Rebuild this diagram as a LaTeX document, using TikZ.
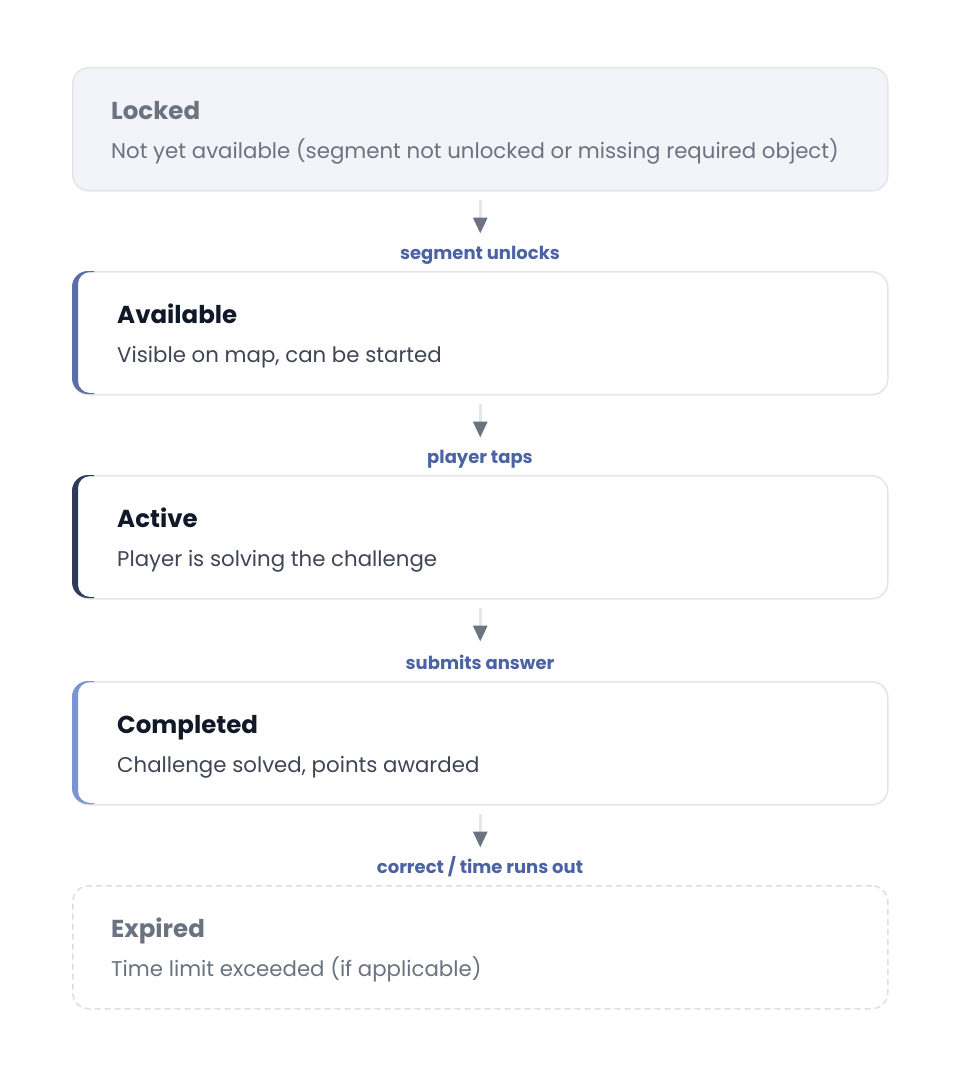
\documentclass[tikz,border=0pt]{standalone}
\usepackage{fontspec}
\setmainfont{Poppins}
\usetikzlibrary{arrows.meta}
\definecolor{lockfill}{HTML}{F3F4F9}
\definecolor{boxline}{HTML}{E3E5EA}
\definecolor{mutedtxt}{HTML}{6B7280}
\definecolor{darktxt}{HTML}{111827}
\definecolor{desctxt}{HTML}{3F4554}
\definecolor{lbltxt}{HTML}{4B63A3}
\definecolor{accA}{HTML}{5A6FA8}
\definecolor{accB}{HTML}{2D3A58}
\definecolor{accC}{HTML}{7B95D1}
\definecolor{arrline}{HTML}{E5E7EB}
\definecolor{dashline}{HTML}{DCDEE3}
\tikzset{
  statebox/.style={anchor=north west, minimum width=815pt, minimum height=123pt,
    rounded corners=16pt, inner sep=0pt, line width=1.5pt},
  plainbox/.style={statebox, draw=boxline, fill=white},
  lockbox/.style={statebox, draw=boxline, fill=lockfill},
  expbox/.style={statebox, draw=dashline, fill=white, dash pattern=on 6pt off 4pt},
  ttl/.style={anchor=base west, inner sep=0pt, font=\fontsize{24.5}{28}\selectfont\bfseries},
  dsc/.style={anchor=base west, inner sep=0pt, font=\fontsize{21.3}{25}\selectfont},
  lbl/.style={anchor=base, inner sep=0pt, text=lbltxt, font=\fontsize{18}{21}\selectfont\bfseries},
  flow/.style={line width=3pt, arrline, -{Triangle[width=14pt,length=16pt,color=mutedtxt,fill=mutedtxt]}},
}
\newcommand\accentbar[3]{%
  \begin{scope}
    \clip (72,#1) rectangle (94,#2);
    \fill[#3, even odd rule] [rounded corners=16pt] (72,#1) rectangle (887,#2)
      [rounded corners=12pt] (78,#1+1) rectangle (886,#2-1);
  \end{scope}}
\begin{document}
\begin{tikzpicture}[x=1pt,y=-1pt]
\useasboundingbox (0,0) rectangle (960,1076);
\fill[white] (0,0) rectangle (960,1076);

% boxes
\node[lockbox] (locked) at (72,67) {};
\node[plainbox] (avail) at (72,271) {};
\node[plainbox] (active) at (72,475) {};
\node[plainbox] (done) at (72,681) {};
\node[expbox] (expired) at (72,885) {};

\accentbar{271}{394}{accA}
\accentbar{475}{598}{accB}
\accentbar{681}{804}{accC}

% texts
\node[ttl, text=mutedtxt] (lockedT) at (111,119) {Locked};
\node[dsc, text=mutedtxt] (lockedD) at (111,158) {Not yet available (segment not unlocked or missing required object)};
\node[ttl, text=darktxt] (availT) at (117,323) {Available};
\node[dsc, text=desctxt] (availD) at (117,362) {Visible on map, can be started};
\node[ttl, text=darktxt] (activeT) at (117,527) {Active};
\node[dsc, text=desctxt] (activeD) at (117,566) {Player is solving the challenge};
\node[ttl, text=darktxt] (doneT) at (117,733) {Completed};
\node[dsc, text=desctxt] (doneD) at (117,772) {Challenge solved, points awarded};
\node[ttl, text=mutedtxt] (expiredT) at (111,937) {Expired};
\node[dsc, text=mutedtxt] (expiredD) at (111,976) {Time limit exceeded (if applicable)};

% labels
\node[lbl] (l1) at (480,259) {segment unlocks};
\node[lbl] (l2) at (480,463) {player taps};
\node[lbl] (l3) at (480,669) {submits answer};
\node[lbl] (l4) at (480,873) {correct / time runs out};

% arrows
\draw[flow] ([yshift=-8pt]locked.south) -- ([yshift=-42pt]locked.south);
\draw[flow] ([yshift=-8pt]avail.south) -- ([yshift=-42pt]avail.south);
\draw[flow] ([yshift=-8pt]active.south) -- ([yshift=-42pt]active.south);
\draw[flow] ([yshift=-8pt]done.south) -- ([yshift=-42pt]done.south);
\end{tikzpicture}
\end{document}
